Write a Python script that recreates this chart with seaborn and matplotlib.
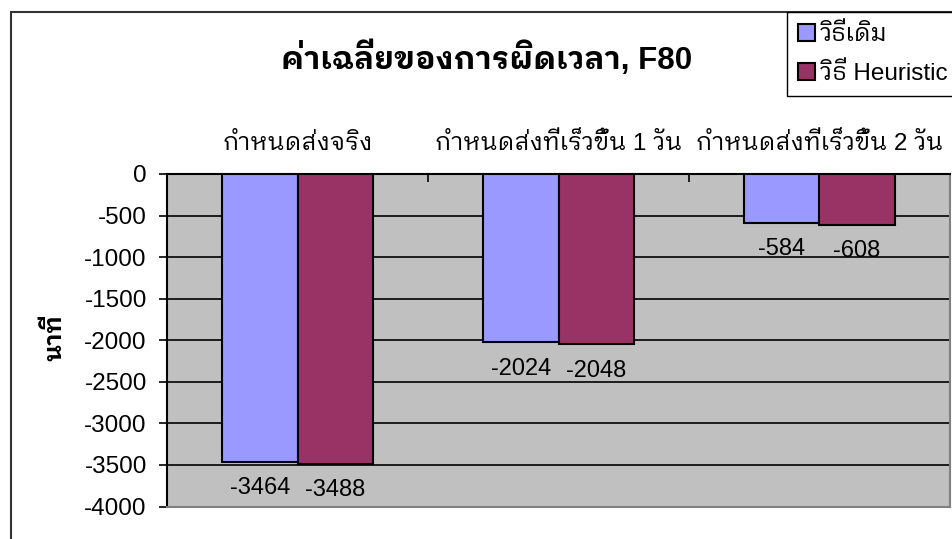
import matplotlib
matplotlib.use('Agg')
import matplotlib.pyplot as plt
from matplotlib.patches import Rectangle
import pandas as pd
import seaborn as sns

# ข้อมูล
categories = ['กำหนดส่งจริง', 'กำหนดส่งที่เร็วขึ้น 1 วัน', 'กำหนดส่งที่เร็วขึ้น 2 วัน']
methods = ['วิธีเดิม', 'วิธี Heuristic']
old_values = [-3464, -2024, -584]
heuristic_values = [-3488, -2048, -608]
y_ticks = list(range(-4000, 1, 500))

df = pd.DataFrame({
    'category': categories * 2,
    'method': [methods[0]] * 3 + [methods[1]] * 3,
    'value': old_values + heuristic_values,
})

sns.set_style('white')
plt.rcParams['font.family'] = ['Liberation Sans', 'IBM Plex Sans Thai Looped']
plt.rcParams['text.color'] = 'black'
plt.rcParams['xtick.color'] = 'black'
plt.rcParams['ytick.color'] = 'black'

W, H = 953, 539
fig = plt.figure(figsize=(W / 100, H / 100), dpi=100)
ax = fig.add_axes([167 / W, 1 - 506.5 / H, 783 / W, 332.5 / H])
ax.set_facecolor('#C0C0C0')

sns.barplot(data=df, x='category', y='value', hue='method', order=categories,
            hue_order=methods, palette=['#9999FF', '#993366'], width=0.575,
            edgecolor='black', linewidth=1.5, saturation=1, ax=ax, zorder=3)

for c in ax.containers:
    ax.bar_label(c, padding=11, fontsize=17, color='black')

ax.set_ylim(-4000, 0)
ax.set_xlim(-0.5, 2.5)
ax.set_yticks(y_ticks)
ax.set_yticklabels([str(v) for v in y_ticks], fontsize=17.5)
ax.yaxis.grid(True, color='black', linewidth=1.2, zorder=1)
ax.set_axisbelow(True)
ax.tick_params(axis='y', left=True, length=6, width=1.2, color='black', pad=8.5)

# ชื่อกลุ่มอยู่ด้านบน
ax.xaxis.tick_top()
ax.set_xticks([0, 1, 2])
ax.set_xticklabels(categories, fontsize=17.5)
ax.set_xticks([0.5, 1.5], minor=True)
ax.tick_params(axis='x', which='major', length=0, pad=14)
ax.tick_params(axis='x', which='minor', top=True, direction='in', length=6,
               width=1.2, color='black')
ax.set_xlabel('')
ax.set_ylabel('')

ax.spines['left'].set_color('black')
ax.spines['left'].set_linewidth(1.5)
ax.spines['top'].set_color('black')
ax.spines['top'].set_linewidth(1.5)
for s in ['bottom', 'right']:
    ax.spines[s].set_color('#808080')
    ax.spines[s].set_linewidth(1.5)

handles, labels = ax.get_legend_handles_labels()
ax.get_legend().remove()
fig.legend(handles, labels, loc='upper left',
           bbox_to_anchor=(787 / W, 1 - 12 / H, 0.3, 0), mode='expand',
           fontsize=17.5, frameon=True, fancybox=False, edgecolor='black',
           framealpha=1, handlelength=0.7, handleheight=0.7,
           handletextpad=0.2, labelspacing=0.7, borderpad=0.45,
           borderaxespad=0)

fig.text(487 / W, 1 - 58 / H, 'ค่าเฉลี่ยของการผิดเวลา, F80', ha='center',
         va='center', fontsize=22.5, fontweight='bold')
fig.text(55 / W, 1 - 338 / H, 'นาที', ha='center', va='center', rotation=90,
         fontsize=17, fontweight='bold')

# กรอบแผนภูมิ
fig.patches.append(Rectangle((11 / W, -0.1), 1.2, 1 - 12 / H + 0.1,
                             transform=fig.transFigure, fill=False,
                             edgecolor='#333333', linewidth=1.5))

fig.savefig('out.png', dpi=100)
